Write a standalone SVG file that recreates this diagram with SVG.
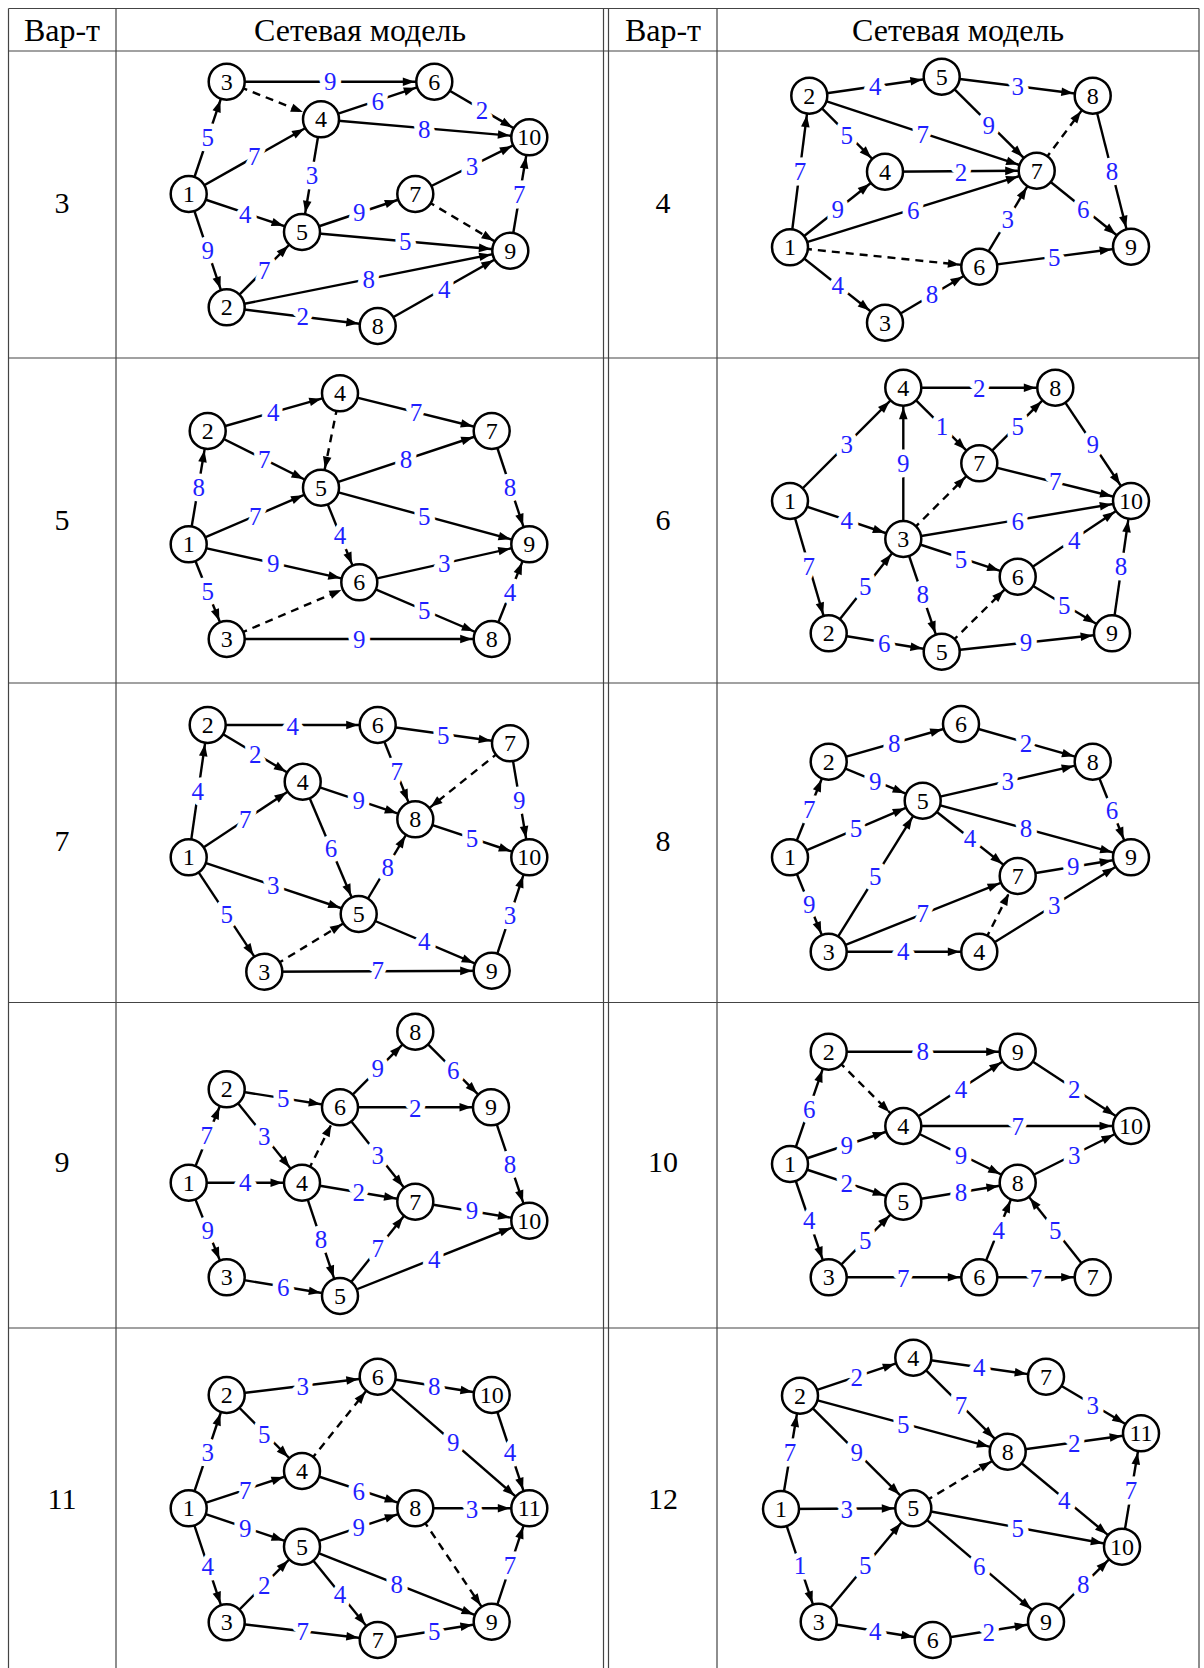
<svg xmlns="http://www.w3.org/2000/svg" width="1204" height="1668" viewBox="0 0 1204 1668">
<style>
.tb{stroke:#444;stroke-width:1.2;fill:none}
.ht{font-family:"Liberation Serif","Times New Roman",Tinos,"DejaVu Serif",serif;font-size:32px;text-anchor:middle;dominant-baseline:central;fill:#000}
.vn{font-family:"Liberation Serif","Times New Roman",Tinos,"DejaVu Serif",serif;font-size:30px;text-anchor:middle;dominant-baseline:central;fill:#000}
.e{stroke:#000;stroke-width:2.4;fill:none;marker-end:url(#a)}
.d{stroke:#000;stroke-width:2.4;fill:none;stroke-dasharray:8 6;marker-end:url(#a)}
.n circle{fill:#fff;stroke:#000;stroke-width:2.5}
.n text{font-family:"Liberation Serif","Times New Roman",Tinos,"DejaVu Serif",serif;font-size:24px;text-anchor:middle;dominant-baseline:central;fill:#000}
.w{font-family:"Liberation Serif","Times New Roman",Tinos,"DejaVu Serif",serif;font-size:25px;fill:#1f1fff;stroke:#fff;stroke-width:11;stroke-linejoin:round;paint-order:stroke;text-anchor:middle;dominant-baseline:central}
</style>
<defs>
<marker id="a" markerUnits="userSpaceOnUse" markerWidth="40" markerHeight="20" refX="31.5" refY="0" orient="auto" overflow="visible"><path d="M0,-4.3 L12,0 L0,4.3z" fill="#000"/></marker>
</defs>
<rect width="1204" height="1668" fill="#fff"/>
<g id="table">
<path class="tb" d="M8.5,8.5H1199M8.5,51H1199M8.5,358H1199M8.5,683H1199M8.5,1002.5H1199M8.5,1328H1199"/>
<path class="tb" d="M8.5,8.5V1668M116,8.5V1668M603.5,8.5V1668M608.5,8.5V1668M717,8.5V1668M1199,8.5V1668"/>
<text class="ht" x="62" y="29.5">Вар-т</text>
<text class="ht" x="360" y="29.5">Сетевая модель</text>
<text class="ht" x="663" y="29.5">Вар-т</text>
<text class="ht" x="958" y="29.5">Сетевая модель</text>
<text class="vn" x="62" y="202">3</text>
<text class="vn" x="663" y="202">4</text>
<text class="vn" x="62" y="519">5</text>
<text class="vn" x="663" y="519">6</text>
<text class="vn" x="62" y="840">7</text>
<text class="vn" x="663" y="840">8</text>
<text class="vn" x="62" y="1161">9</text>
<text class="vn" x="663" y="1161">10</text>
<text class="vn" x="62" y="1498">11</text>
<text class="vn" x="663" y="1498">12</text>
</g>

<!-- Variant 3 -->
<g id="v3">
<g id="v3-connectors">
<line class="e" x1="188.7" y1="194" x2="226.7" y2="81.7"/>
<line class="e" x1="188.7" y1="194" x2="321" y2="119.3"/>
<line class="e" x1="188.7" y1="194" x2="302" y2="232"/>
<line class="e" x1="188.7" y1="194" x2="226.7" y2="307.3"/>
<line class="e" x1="226.7" y1="81.7" x2="434.3" y2="81.7"/>
<line class="d" x1="226.7" y1="81.7" x2="321" y2="119.3"/>
<line class="e" x1="321" y1="119.3" x2="434.3" y2="81.7"/>
<line class="e" x1="321" y1="119.3" x2="529.3" y2="137.3"/>
<line class="e" x1="321" y1="119.3" x2="302" y2="232"/>
<line class="e" x1="434.3" y1="81.7" x2="529.3" y2="137.3"/>
<line class="e" x1="302" y1="232" x2="415.3" y2="194"/>
<line class="e" x1="302" y1="232" x2="510.3" y2="250.7"/>
<line class="e" x1="415.3" y1="194" x2="529.3" y2="137.3"/>
<line class="d" x1="415.3" y1="194" x2="510.3" y2="250.7"/>
<line class="e" x1="226.7" y1="307.3" x2="302" y2="232"/>
<line class="e" x1="226.7" y1="307.3" x2="510.3" y2="250.7"/>
<line class="e" x1="226.7" y1="307.3" x2="377.7" y2="326"/>
<line class="e" x1="377.7" y1="326" x2="510.3" y2="250.7"/>
<line class="e" x1="510.3" y1="250.7" x2="529.3" y2="137.3"/>
<text class="w" x="207.7" y="137.3">5</text>
<text class="w" x="254.3" y="156.7">7</text>
<text class="w" x="245.3" y="214">4</text>
<text class="w" x="207.7" y="250.7">9</text>
<text class="w" x="330.3" y="81">9</text>
<text class="w" x="377.7" y="101.7">6</text>
<text class="w" x="424.3" y="129.3">8</text>
<text class="w" x="312" y="175">3</text>
<text class="w" x="482" y="110">2</text>
<text class="w" x="359.3" y="212.7">9</text>
<text class="w" x="405.3" y="241.7">5</text>
<text class="w" x="472" y="166">3</text>
<text class="w" x="264.3" y="270">7</text>
<text class="w" x="368.7" y="279.3">8</text>
<text class="w" x="302.7" y="316.7">2</text>
<text class="w" x="444.3" y="289.3">4</text>
<text class="w" x="519.3" y="194">7</text>
</g>
<g id="v3-n1" class="n" transform="translate(188.7,194)"><circle r="18"/><text>1</text></g>
<g id="v3-n2" class="n" transform="translate(226.7,307.3)"><circle r="18"/><text>2</text></g>
<g id="v3-n3" class="n" transform="translate(226.7,81.7)"><circle r="18"/><text>3</text></g>
<g id="v3-n4" class="n" transform="translate(321,119.3)"><circle r="18"/><text>4</text></g>
<g id="v3-n5" class="n" transform="translate(302,232)"><circle r="18"/><text>5</text></g>
<g id="v3-n6" class="n" transform="translate(434.3,81.7)"><circle r="18"/><text>6</text></g>
<g id="v3-n7" class="n" transform="translate(415.3,194)"><circle r="18"/><text>7</text></g>
<g id="v3-n8" class="n" transform="translate(377.7,326)"><circle r="18"/><text>8</text></g>
<g id="v3-n9" class="n" transform="translate(510.3,250.7)"><circle r="18"/><text>9</text></g>
<g id="v3-n10" class="n" transform="translate(529.3,137.3)"><circle r="18"/><text>10</text></g>
</g>

<!-- Variant 4 -->
<g id="v4">
<g id="v4-connectors">
<line class="e" x1="790" y1="247.3" x2="809.3" y2="95.7"/>
<line class="e" x1="790" y1="247.3" x2="885" y2="171.7"/>
<line class="e" x1="790" y1="247.3" x2="1036.7" y2="170.7"/>
<line class="d" x1="790" y1="247.3" x2="979.3" y2="266.7"/>
<line class="e" x1="790" y1="247.3" x2="885" y2="322.7"/>
<line class="e" x1="809.3" y1="95.7" x2="941.7" y2="76.7"/>
<line class="e" x1="809.3" y1="95.7" x2="885" y2="171.7"/>
<line class="e" x1="809.3" y1="95.7" x2="1036.7" y2="170.7"/>
<line class="e" x1="885" y1="171.7" x2="1036.7" y2="170.7"/>
<line class="e" x1="941.7" y1="76.7" x2="1092.7" y2="95.7"/>
<line class="e" x1="941.7" y1="76.7" x2="1036.7" y2="170.7"/>
<line class="d" x1="1036.7" y1="170.7" x2="1092.7" y2="95.7"/>
<line class="e" x1="1092.7" y1="95.7" x2="1131" y2="246.7"/>
<line class="e" x1="1036.7" y1="170.7" x2="1131" y2="246.7"/>
<line class="e" x1="979.3" y1="266.7" x2="1036.7" y2="170.7"/>
<line class="e" x1="979.3" y1="266.7" x2="1131" y2="246.7"/>
<line class="e" x1="885" y1="322.7" x2="979.3" y2="266.7"/>
<text class="w" x="800" y="171.7">7</text>
<text class="w" x="837.7" y="209.3">9</text>
<text class="w" x="913.3" y="210">6</text>
<text class="w" x="837.7" y="285">4</text>
<text class="w" x="875.3" y="86">4</text>
<text class="w" x="846.7" y="135">5</text>
<text class="w" x="922.7" y="134">7</text>
<text class="w" x="961" y="172.7">2</text>
<text class="w" x="1017.7" y="86">3</text>
<text class="w" x="988.7" y="125">9</text>
<text class="w" x="1112" y="171.7">8</text>
<text class="w" x="1083.3" y="209.3">6</text>
<text class="w" x="1007.7" y="219.3">3</text>
<text class="w" x="1054.3" y="257.3">5</text>
<text class="w" x="932" y="294">8</text>
</g>
<g id="v4-n1" class="n" transform="translate(790,247.3)"><circle r="18"/><text>1</text></g>
<g id="v4-n2" class="n" transform="translate(809.3,95.7)"><circle r="18"/><text>2</text></g>
<g id="v4-n3" class="n" transform="translate(885,322.7)"><circle r="18"/><text>3</text></g>
<g id="v4-n4" class="n" transform="translate(885,171.7)"><circle r="18"/><text>4</text></g>
<g id="v4-n5" class="n" transform="translate(941.7,76.7)"><circle r="18"/><text>5</text></g>
<g id="v4-n6" class="n" transform="translate(979.3,266.7)"><circle r="18"/><text>6</text></g>
<g id="v4-n7" class="n" transform="translate(1036.7,170.7)"><circle r="18"/><text>7</text></g>
<g id="v4-n8" class="n" transform="translate(1092.7,95.7)"><circle r="18"/><text>8</text></g>
<g id="v4-n9" class="n" transform="translate(1131,246.7)"><circle r="18"/><text>9</text></g>
</g>

<!-- Variant 5 -->
<g id="v5">
<g id="v5-connectors">
<line class="e" x1="188.7" y1="544.3" x2="207.7" y2="431"/>
<line class="e" x1="188.7" y1="544.3" x2="321" y2="487.7"/>
<line class="e" x1="188.7" y1="544.3" x2="359.3" y2="582.3"/>
<line class="e" x1="188.7" y1="544.3" x2="226.7" y2="639"/>
<line class="e" x1="207.7" y1="431" x2="340" y2="393.3"/>
<line class="e" x1="207.7" y1="431" x2="321" y2="487.7"/>
<line class="d" x1="340" y1="393.3" x2="321" y2="487.7"/>
<line class="e" x1="340" y1="393.3" x2="491.7" y2="431"/>
<line class="e" x1="321" y1="487.7" x2="491.7" y2="431"/>
<line class="e" x1="321" y1="487.7" x2="529.3" y2="544.3"/>
<line class="e" x1="321" y1="487.7" x2="359.3" y2="582.3"/>
<line class="d" x1="226.7" y1="639" x2="359.3" y2="582.3"/>
<line class="e" x1="226.7" y1="639" x2="491.7" y2="639"/>
<line class="e" x1="359.3" y1="582.3" x2="529.3" y2="544.3"/>
<line class="e" x1="359.3" y1="582.3" x2="491.7" y2="639"/>
<line class="e" x1="491.7" y1="431" x2="529.3" y2="544.3"/>
<line class="e" x1="491.7" y1="639" x2="529.3" y2="544.3"/>
<text class="w" x="198.7" y="487.7">8</text>
<text class="w" x="255.3" y="516.7">7</text>
<text class="w" x="273.3" y="563.3">9</text>
<text class="w" x="207.7" y="591">5</text>
<text class="w" x="273.3" y="412.3">4</text>
<text class="w" x="264.3" y="459">7</text>
<text class="w" x="416" y="412.3">7</text>
<text class="w" x="406" y="459">8</text>
<text class="w" x="424.3" y="516.7">5</text>
<text class="w" x="340" y="535">4</text>
<text class="w" x="359.3" y="639">9</text>
<text class="w" x="444.3" y="563.3">3</text>
<text class="w" x="424.3" y="610">5</text>
<text class="w" x="510" y="487.7">8</text>
<text class="w" x="510" y="592.3">4</text>
</g>
<g id="v5-n1" class="n" transform="translate(188.7,544.3)"><circle r="18"/><text>1</text></g>
<g id="v5-n2" class="n" transform="translate(207.7,431)"><circle r="18"/><text>2</text></g>
<g id="v5-n3" class="n" transform="translate(226.7,639)"><circle r="18"/><text>3</text></g>
<g id="v5-n4" class="n" transform="translate(340,393.3)"><circle r="18"/><text>4</text></g>
<g id="v5-n5" class="n" transform="translate(321,487.7)"><circle r="18"/><text>5</text></g>
<g id="v5-n6" class="n" transform="translate(359.3,582.3)"><circle r="18"/><text>6</text></g>
<g id="v5-n7" class="n" transform="translate(491.7,431)"><circle r="18"/><text>7</text></g>
<g id="v5-n8" class="n" transform="translate(491.7,639)"><circle r="18"/><text>8</text></g>
<g id="v5-n9" class="n" transform="translate(529.3,544.3)"><circle r="18"/><text>9</text></g>
</g>

<!-- Variant 6 -->
<g id="v6">
<g id="v6-connectors">
<line class="e" x1="790" y1="501" x2="903.3" y2="387.7"/>
<line class="e" x1="790" y1="501" x2="903.3" y2="539"/>
<line class="e" x1="790" y1="501" x2="828.7" y2="633.3"/>
<line class="e" x1="828.7" y1="633.3" x2="903.3" y2="539"/>
<line class="e" x1="828.7" y1="633.3" x2="941.7" y2="651.7"/>
<line class="e" x1="903.3" y1="539" x2="903.3" y2="387.7"/>
<line class="d" x1="903.3" y1="539" x2="979.3" y2="463.3"/>
<line class="e" x1="903.3" y1="539" x2="1131" y2="501"/>
<line class="e" x1="903.3" y1="539" x2="1017.7" y2="576.7"/>
<line class="e" x1="903.3" y1="539" x2="941.7" y2="651.7"/>
<line class="e" x1="903.3" y1="387.7" x2="1055.3" y2="387.7"/>
<line class="e" x1="903.3" y1="387.7" x2="979.3" y2="463.3"/>
<line class="e" x1="979.3" y1="463.3" x2="1055.3" y2="387.7"/>
<line class="e" x1="979.3" y1="463.3" x2="1131" y2="501"/>
<line class="e" x1="1055.3" y1="387.7" x2="1131" y2="501"/>
<line class="e" x1="1017.7" y1="576.7" x2="1131" y2="501"/>
<line class="e" x1="1017.7" y1="576.7" x2="1112" y2="633.3"/>
<line class="d" x1="941.7" y1="651.7" x2="1017.7" y2="576.7"/>
<line class="e" x1="941.7" y1="651.7" x2="1112" y2="633.3"/>
<line class="e" x1="1112" y1="633.3" x2="1131" y2="501"/>
<text class="w" x="846.7" y="444.3">3</text>
<text class="w" x="846.7" y="520">4</text>
<text class="w" x="808.7" y="566.7">7</text>
<text class="w" x="865.3" y="586.7">5</text>
<text class="w" x="884.3" y="643.3">6</text>
<text class="w" x="903.3" y="463.3">9</text>
<text class="w" x="1017.7" y="521">6</text>
<text class="w" x="961" y="559">5</text>
<text class="w" x="922.7" y="594.3">8</text>
<text class="w" x="979.3" y="388.3">2</text>
<text class="w" x="942" y="426.7">1</text>
<text class="w" x="1017.7" y="426.7">5</text>
<text class="w" x="1055.3" y="481.7">7</text>
<text class="w" x="1092.7" y="444.3">9</text>
<text class="w" x="1074.3" y="540">4</text>
<text class="w" x="1064.3" y="605.7">5</text>
<text class="w" x="1026" y="642.3">9</text>
<text class="w" x="1121" y="566.7">8</text>
</g>
<g id="v6-n1" class="n" transform="translate(790,501)"><circle r="18"/><text>1</text></g>
<g id="v6-n2" class="n" transform="translate(828.7,633.3)"><circle r="18"/><text>2</text></g>
<g id="v6-n3" class="n" transform="translate(903.3,539)"><circle r="18"/><text>3</text></g>
<g id="v6-n4" class="n" transform="translate(903.3,387.7)"><circle r="18"/><text>4</text></g>
<g id="v6-n5" class="n" transform="translate(941.7,651.7)"><circle r="18"/><text>5</text></g>
<g id="v6-n6" class="n" transform="translate(1017.7,576.7)"><circle r="18"/><text>6</text></g>
<g id="v6-n7" class="n" transform="translate(979.3,463.3)"><circle r="18"/><text>7</text></g>
<g id="v6-n8" class="n" transform="translate(1055.3,387.7)"><circle r="18"/><text>8</text></g>
<g id="v6-n9" class="n" transform="translate(1112,633.3)"><circle r="18"/><text>9</text></g>
<g id="v6-n10" class="n" transform="translate(1131,501)"><circle r="18"/><text>10</text></g>
</g>

<!-- Variant 7 -->
<g id="v7">
<g id="v7-connectors">
<line class="e" x1="188.7" y1="857.3" x2="207.7" y2="725"/>
<line class="e" x1="188.7" y1="857.3" x2="302.7" y2="781.7"/>
<line class="e" x1="188.7" y1="857.3" x2="358.7" y2="914"/>
<line class="e" x1="188.7" y1="857.3" x2="264.3" y2="971.7"/>
<line class="e" x1="207.7" y1="725" x2="377.7" y2="725"/>
<line class="e" x1="207.7" y1="725" x2="302.7" y2="781.7"/>
<line class="e" x1="377.7" y1="725" x2="510" y2="743.3"/>
<line class="e" x1="377.7" y1="725" x2="415.3" y2="819.3"/>
<line class="d" x1="510" y1="743.3" x2="415.3" y2="819.3"/>
<line class="e" x1="510" y1="743.3" x2="529.3" y2="857.3"/>
<line class="e" x1="302.7" y1="781.7" x2="415.3" y2="819.3"/>
<line class="e" x1="302.7" y1="781.7" x2="358.7" y2="914"/>
<line class="e" x1="415.3" y1="819.3" x2="529.3" y2="857.3"/>
<line class="e" x1="358.7" y1="914" x2="415.3" y2="819.3"/>
<line class="e" x1="358.7" y1="914" x2="491.7" y2="970.7"/>
<line class="d" x1="264.3" y1="971.7" x2="358.7" y2="914"/>
<line class="e" x1="264.3" y1="971.7" x2="491.7" y2="970.7"/>
<line class="e" x1="491.7" y1="970.7" x2="529.3" y2="857.3"/>
<text class="w" x="197.7" y="791.7">4</text>
<text class="w" x="245.3" y="819.3">7</text>
<text class="w" x="273.3" y="885">3</text>
<text class="w" x="226.7" y="914">5</text>
<text class="w" x="292.7" y="726">4</text>
<text class="w" x="255.3" y="754">2</text>
<text class="w" x="443.3" y="735">5</text>
<text class="w" x="396.7" y="771.7">7</text>
<text class="w" x="519.3" y="800.7">9</text>
<text class="w" x="358.7" y="800">9</text>
<text class="w" x="331" y="848.3">6</text>
<text class="w" x="472" y="838.3">5</text>
<text class="w" x="387.7" y="867.3">8</text>
<text class="w" x="424.3" y="941.7">4</text>
<text class="w" x="377.7" y="970.7">7</text>
<text class="w" x="510" y="915">3</text>
</g>
<g id="v7-n1" class="n" transform="translate(188.7,857.3)"><circle r="18"/><text>1</text></g>
<g id="v7-n2" class="n" transform="translate(207.7,725)"><circle r="18"/><text>2</text></g>
<g id="v7-n3" class="n" transform="translate(264.3,971.7)"><circle r="18"/><text>3</text></g>
<g id="v7-n4" class="n" transform="translate(302.7,781.7)"><circle r="18"/><text>4</text></g>
<g id="v7-n5" class="n" transform="translate(358.7,914)"><circle r="18"/><text>5</text></g>
<g id="v7-n6" class="n" transform="translate(377.7,725)"><circle r="18"/><text>6</text></g>
<g id="v7-n7" class="n" transform="translate(510,743.3)"><circle r="18"/><text>7</text></g>
<g id="v7-n8" class="n" transform="translate(415.3,819.3)"><circle r="18"/><text>8</text></g>
<g id="v7-n9" class="n" transform="translate(491.7,970.7)"><circle r="18"/><text>9</text></g>
<g id="v7-n10" class="n" transform="translate(529.3,857.3)"><circle r="18"/><text>10</text></g>
</g>

<!-- Variant 8 -->
<g id="v8">
<g id="v8-connectors">
<line class="e" x1="790" y1="857.3" x2="828.7" y2="761.7"/>
<line class="e" x1="790" y1="857.3" x2="922.7" y2="800.7"/>
<line class="e" x1="790" y1="857.3" x2="828.7" y2="951.7"/>
<line class="e" x1="828.7" y1="761.7" x2="961" y2="724"/>
<line class="e" x1="828.7" y1="761.7" x2="922.7" y2="800.7"/>
<line class="e" x1="961" y1="724" x2="1092.7" y2="761.7"/>
<line class="e" x1="922.7" y1="800.7" x2="1092.7" y2="761.7"/>
<line class="e" x1="922.7" y1="800.7" x2="1131" y2="857.3"/>
<line class="e" x1="922.7" y1="800.7" x2="1017.7" y2="876"/>
<line class="e" x1="1092.7" y1="761.7" x2="1131" y2="857.3"/>
<line class="e" x1="1017.7" y1="876" x2="1131" y2="857.3"/>
<line class="e" x1="828.7" y1="951.7" x2="922.7" y2="800.7"/>
<line class="e" x1="828.7" y1="951.7" x2="1017.7" y2="876"/>
<line class="e" x1="828.7" y1="951.7" x2="979.3" y2="951.7"/>
<line class="d" x1="979.3" y1="951.7" x2="1017.7" y2="876"/>
<line class="e" x1="979.3" y1="951.7" x2="1131" y2="857.3"/>
<text class="w" x="809.3" y="809.3">7</text>
<text class="w" x="856" y="828.3">5</text>
<text class="w" x="809.3" y="904">9</text>
<text class="w" x="894.3" y="743.3">8</text>
<text class="w" x="875.3" y="781.7">9</text>
<text class="w" x="1026" y="743.3">2</text>
<text class="w" x="1007.7" y="781.7">3</text>
<text class="w" x="1026" y="828.3">8</text>
<text class="w" x="970" y="838.3">4</text>
<text class="w" x="1112" y="810.7">6</text>
<text class="w" x="1073.3" y="866.7">9</text>
<text class="w" x="875.3" y="876.7">5</text>
<text class="w" x="922.7" y="913.3">7</text>
<text class="w" x="903.3" y="951.7">4</text>
<text class="w" x="1054.3" y="905">3</text>
</g>
<g id="v8-n1" class="n" transform="translate(790,857.3)"><circle r="18"/><text>1</text></g>
<g id="v8-n2" class="n" transform="translate(828.7,761.7)"><circle r="18"/><text>2</text></g>
<g id="v8-n3" class="n" transform="translate(828.7,951.7)"><circle r="18"/><text>3</text></g>
<g id="v8-n4" class="n" transform="translate(979.3,951.7)"><circle r="18"/><text>4</text></g>
<g id="v8-n5" class="n" transform="translate(922.7,800.7)"><circle r="18"/><text>5</text></g>
<g id="v8-n6" class="n" transform="translate(961,724)"><circle r="18"/><text>6</text></g>
<g id="v8-n7" class="n" transform="translate(1017.7,876)"><circle r="18"/><text>7</text></g>
<g id="v8-n8" class="n" transform="translate(1092.7,761.7)"><circle r="18"/><text>8</text></g>
<g id="v8-n9" class="n" transform="translate(1131,857.3)"><circle r="18"/><text>9</text></g>
</g>

<!-- Variant 9 -->
<g id="v9">
<g id="v9-connectors">
<line class="e" x1="188.7" y1="1182.7" x2="226.7" y2="1089.3"/>
<line class="e" x1="188.7" y1="1182.7" x2="302" y2="1182.7"/>
<line class="e" x1="188.7" y1="1182.7" x2="226.7" y2="1277.3"/>
<line class="e" x1="226.7" y1="1089.3" x2="340" y2="1107.3"/>
<line class="e" x1="226.7" y1="1089.3" x2="302" y2="1182.7"/>
<line class="d" x1="302" y1="1182.7" x2="340" y2="1107.3"/>
<line class="e" x1="340" y1="1107.3" x2="415.3" y2="1031.7"/>
<line class="e" x1="340" y1="1107.3" x2="491" y2="1107.3"/>
<line class="e" x1="340" y1="1107.3" x2="415.3" y2="1201.7"/>
<line class="e" x1="302" y1="1182.7" x2="415.3" y2="1201.7"/>
<line class="e" x1="302" y1="1182.7" x2="340" y2="1296"/>
<line class="e" x1="415.3" y1="1031.7" x2="491" y2="1107.3"/>
<line class="e" x1="491" y1="1107.3" x2="529.3" y2="1220.7"/>
<line class="e" x1="415.3" y1="1201.7" x2="529.3" y2="1220.7"/>
<line class="e" x1="340" y1="1296" x2="415.3" y2="1201.7"/>
<line class="e" x1="340" y1="1296" x2="529.3" y2="1220.7"/>
<line class="e" x1="226.7" y1="1277.3" x2="340" y2="1296"/>
<text class="w" x="206.7" y="1135">7</text>
<text class="w" x="245.3" y="1182.7">4</text>
<text class="w" x="207.7" y="1230">9</text>
<text class="w" x="283.3" y="1098.3">5</text>
<text class="w" x="264.3" y="1136">3</text>
<text class="w" x="377.7" y="1068.3">9</text>
<text class="w" x="415.3" y="1108.3">2</text>
<text class="w" x="377.7" y="1155">3</text>
<text class="w" x="358.7" y="1192.7">2</text>
<text class="w" x="321" y="1239.3">8</text>
<text class="w" x="453.3" y="1070.7">6</text>
<text class="w" x="510" y="1164">8</text>
<text class="w" x="472" y="1210.7">9</text>
<text class="w" x="377.7" y="1248.3">7</text>
<text class="w" x="434.3" y="1259.3">4</text>
<text class="w" x="283.3" y="1287.3">6</text>
</g>
<g id="v9-n1" class="n" transform="translate(188.7,1182.7)"><circle r="18"/><text>1</text></g>
<g id="v9-n2" class="n" transform="translate(226.7,1089.3)"><circle r="18"/><text>2</text></g>
<g id="v9-n3" class="n" transform="translate(226.7,1277.3)"><circle r="18"/><text>3</text></g>
<g id="v9-n4" class="n" transform="translate(302,1182.7)"><circle r="18"/><text>4</text></g>
<g id="v9-n5" class="n" transform="translate(340,1296)"><circle r="18"/><text>5</text></g>
<g id="v9-n6" class="n" transform="translate(340,1107.3)"><circle r="18"/><text>6</text></g>
<g id="v9-n7" class="n" transform="translate(415.3,1201.7)"><circle r="18"/><text>7</text></g>
<g id="v9-n8" class="n" transform="translate(415.3,1031.7)"><circle r="18"/><text>8</text></g>
<g id="v9-n9" class="n" transform="translate(491,1107.3)"><circle r="18"/><text>9</text></g>
<g id="v9-n10" class="n" transform="translate(529.3,1220.7)"><circle r="18"/><text>10</text></g>
</g>

<!-- Variant 10 -->
<g id="v10">
<g id="v10-connectors">
<line class="e" x1="790" y1="1164" x2="828.7" y2="1051.7"/>
<line class="e" x1="790" y1="1164" x2="903.3" y2="1126"/>
<line class="e" x1="790" y1="1164" x2="903.3" y2="1201.7"/>
<line class="e" x1="790" y1="1164" x2="828.7" y2="1277.3"/>
<line class="e" x1="828.7" y1="1051.7" x2="1017.7" y2="1051.7"/>
<line class="d" x1="828.7" y1="1051.7" x2="903.3" y2="1126"/>
<line class="e" x1="903.3" y1="1126" x2="1017.7" y2="1051.7"/>
<line class="e" x1="903.3" y1="1126" x2="1131" y2="1126"/>
<line class="e" x1="903.3" y1="1126" x2="1017.7" y2="1182.7"/>
<line class="e" x1="903.3" y1="1201.7" x2="1017.7" y2="1182.7"/>
<line class="e" x1="1017.7" y1="1182.7" x2="1131" y2="1126"/>
<line class="e" x1="1017.7" y1="1051.7" x2="1131" y2="1126"/>
<line class="e" x1="828.7" y1="1277.3" x2="903.3" y2="1201.7"/>
<line class="e" x1="828.7" y1="1277.3" x2="979.3" y2="1277.3"/>
<line class="e" x1="979.3" y1="1277.3" x2="1017.7" y2="1182.7"/>
<line class="e" x1="1092.7" y1="1277.3" x2="1017.7" y2="1182.7"/>
<line class="e" x1="979.3" y1="1277.3" x2="1092.7" y2="1277.3"/>
<text class="w" x="809.3" y="1109.3">6</text>
<text class="w" x="846.7" y="1145">9</text>
<text class="w" x="846.7" y="1183.3">2</text>
<text class="w" x="809.3" y="1220.7">4</text>
<text class="w" x="922.7" y="1051.7">8</text>
<text class="w" x="961" y="1089.3">4</text>
<text class="w" x="1017.7" y="1126.7">7</text>
<text class="w" x="961" y="1155">9</text>
<text class="w" x="961" y="1192.7">8</text>
<text class="w" x="1074.3" y="1155">3</text>
<text class="w" x="1074.3" y="1089.3">2</text>
<text class="w" x="865.3" y="1240.7">5</text>
<text class="w" x="903.3" y="1278.3">7</text>
<text class="w" x="998.7" y="1230">4</text>
<text class="w" x="1055.3" y="1230">5</text>
<text class="w" x="1036" y="1278.3">7</text>
</g>
<g id="v10-n1" class="n" transform="translate(790,1164)"><circle r="18"/><text>1</text></g>
<g id="v10-n2" class="n" transform="translate(828.7,1051.7)"><circle r="18"/><text>2</text></g>
<g id="v10-n3" class="n" transform="translate(828.7,1277.3)"><circle r="18"/><text>3</text></g>
<g id="v10-n4" class="n" transform="translate(903.3,1126)"><circle r="18"/><text>4</text></g>
<g id="v10-n5" class="n" transform="translate(903.3,1201.7)"><circle r="18"/><text>5</text></g>
<g id="v10-n6" class="n" transform="translate(979.3,1277.3)"><circle r="18"/><text>6</text></g>
<g id="v10-n7" class="n" transform="translate(1092.7,1277.3)"><circle r="18"/><text>7</text></g>
<g id="v10-n8" class="n" transform="translate(1017.7,1182.7)"><circle r="18"/><text>8</text></g>
<g id="v10-n9" class="n" transform="translate(1017.7,1051.7)"><circle r="18"/><text>9</text></g>
<g id="v10-n10" class="n" transform="translate(1131,1126)"><circle r="18"/><text>10</text></g>
</g>

<!-- Variant 11 -->
<g id="v11">
<g id="v11-connectors">
<line class="e" x1="188.7" y1="1508.3" x2="226.7" y2="1395"/>
<line class="e" x1="188.7" y1="1508.3" x2="302" y2="1471"/>
<line class="e" x1="188.7" y1="1508.3" x2="302" y2="1546.7"/>
<line class="e" x1="188.7" y1="1508.3" x2="226.7" y2="1622.3"/>
<line class="e" x1="226.7" y1="1395" x2="377.7" y2="1376.7"/>
<line class="e" x1="226.7" y1="1395" x2="302" y2="1471"/>
<line class="d" x1="302" y1="1471" x2="377.7" y2="1376.7"/>
<line class="e" x1="302" y1="1471" x2="415.3" y2="1508.3"/>
<line class="e" x1="377.7" y1="1376.7" x2="491.7" y2="1395"/>
<line class="e" x1="377.7" y1="1376.7" x2="529.3" y2="1508.3"/>
<line class="e" x1="491.7" y1="1395" x2="529.3" y2="1508.3"/>
<line class="e" x1="415.3" y1="1508.3" x2="529.3" y2="1508.3"/>
<line class="d" x1="415.3" y1="1508.3" x2="491.7" y2="1621.7"/>
<line class="e" x1="302" y1="1546.7" x2="415.3" y2="1508.3"/>
<line class="e" x1="302" y1="1546.7" x2="491.7" y2="1621.7"/>
<line class="e" x1="302" y1="1546.7" x2="377.7" y2="1640"/>
<line class="e" x1="226.7" y1="1622.3" x2="302" y2="1546.7"/>
<line class="e" x1="226.7" y1="1622.3" x2="377.7" y2="1640"/>
<line class="e" x1="377.7" y1="1640" x2="491.7" y2="1621.7"/>
<line class="e" x1="491.7" y1="1621.7" x2="529.3" y2="1508.3"/>
<text class="w" x="207.7" y="1452.3">3</text>
<text class="w" x="245.3" y="1490">7</text>
<text class="w" x="245.3" y="1528.3">9</text>
<text class="w" x="207.7" y="1566.7">4</text>
<text class="w" x="302.7" y="1386.7">3</text>
<text class="w" x="264.3" y="1434.3">5</text>
<text class="w" x="358.7" y="1491">6</text>
<text class="w" x="434.3" y="1386.7">8</text>
<text class="w" x="453.3" y="1442.3">9</text>
<text class="w" x="510" y="1452.3">4</text>
<text class="w" x="472" y="1509">3</text>
<text class="w" x="358.7" y="1527.7">9</text>
<text class="w" x="396.7" y="1584.3">8</text>
<text class="w" x="340" y="1594.3">4</text>
<text class="w" x="264.3" y="1585">2</text>
<text class="w" x="302.7" y="1631.7">7</text>
<text class="w" x="434.3" y="1631.7">5</text>
<text class="w" x="510" y="1565.7">7</text>
</g>
<g id="v11-n1" class="n" transform="translate(188.7,1508.3)"><circle r="18"/><text>1</text></g>
<g id="v11-n2" class="n" transform="translate(226.7,1395)"><circle r="18"/><text>2</text></g>
<g id="v11-n3" class="n" transform="translate(226.7,1622.3)"><circle r="18"/><text>3</text></g>
<g id="v11-n4" class="n" transform="translate(302,1471)"><circle r="18"/><text>4</text></g>
<g id="v11-n5" class="n" transform="translate(302,1546.7)"><circle r="18"/><text>5</text></g>
<g id="v11-n6" class="n" transform="translate(377.7,1376.7)"><circle r="18"/><text>6</text></g>
<g id="v11-n7" class="n" transform="translate(377.7,1640)"><circle r="18"/><text>7</text></g>
<g id="v11-n8" class="n" transform="translate(415.3,1508.3)"><circle r="18"/><text>8</text></g>
<g id="v11-n9" class="n" transform="translate(491.7,1621.7)"><circle r="18"/><text>9</text></g>
<g id="v11-n10" class="n" transform="translate(491.7,1395)"><circle r="18"/><text>10</text></g>
<g id="v11-n11" class="n" transform="translate(529.3,1508.3)"><circle r="18"/><text>11</text></g>
</g>

<!-- Variant 12 -->
<g id="v12">
<g id="v12-connectors">
<line class="e" x1="781" y1="1509" x2="800" y2="1395.7"/>
<line class="e" x1="781" y1="1509" x2="913.3" y2="1508.3"/>
<line class="e" x1="781" y1="1509" x2="818.7" y2="1621.7"/>
<line class="e" x1="800" y1="1395.7" x2="913.3" y2="1357.7"/>
<line class="e" x1="800" y1="1395.7" x2="1007.7" y2="1451.7"/>
<line class="e" x1="800" y1="1395.7" x2="913.3" y2="1508.3"/>
<line class="e" x1="913.3" y1="1357.7" x2="1046" y2="1376.7"/>
<line class="e" x1="913.3" y1="1357.7" x2="1007.7" y2="1451.7"/>
<line class="e" x1="1046" y1="1376.7" x2="1141" y2="1433.3"/>
<line class="e" x1="1007.7" y1="1451.7" x2="1141" y2="1433.3"/>
<line class="e" x1="1007.7" y1="1451.7" x2="1122" y2="1546.7"/>
<line class="d" x1="913.3" y1="1508.3" x2="1007.7" y2="1451.7"/>
<line class="e" x1="913.3" y1="1508.3" x2="1122" y2="1546.7"/>
<line class="e" x1="913.3" y1="1508.3" x2="1046" y2="1621.7"/>
<line class="e" x1="818.7" y1="1621.7" x2="913.3" y2="1508.3"/>
<line class="e" x1="818.7" y1="1621.7" x2="932.7" y2="1640"/>
<line class="e" x1="932.7" y1="1640" x2="1046" y2="1621.7"/>
<line class="e" x1="1046" y1="1621.7" x2="1122" y2="1546.7"/>
<line class="e" x1="1122" y1="1546.7" x2="1141" y2="1433.3"/>
<text class="w" x="790" y="1452.3">7</text>
<text class="w" x="846.7" y="1509">3</text>
<text class="w" x="800" y="1565.7">1</text>
<text class="w" x="856.7" y="1377.7">2</text>
<text class="w" x="903.3" y="1424.3">5</text>
<text class="w" x="856.7" y="1452.3">9</text>
<text class="w" x="979.3" y="1367.7">4</text>
<text class="w" x="961" y="1405">7</text>
<text class="w" x="1092.7" y="1405.7">3</text>
<text class="w" x="1074.3" y="1443.3">2</text>
<text class="w" x="1064.3" y="1500">4</text>
<text class="w" x="1017.7" y="1528.3">5</text>
<text class="w" x="979.3" y="1566.7">6</text>
<text class="w" x="865.3" y="1565.7">5</text>
<text class="w" x="875.3" y="1631">4</text>
<text class="w" x="988.7" y="1632.3">2</text>
<text class="w" x="1083.3" y="1584.3">8</text>
<text class="w" x="1131" y="1490">7</text>
</g>
<g id="v12-n1" class="n" transform="translate(781,1509)"><circle r="18"/><text>1</text></g>
<g id="v12-n2" class="n" transform="translate(800,1395.7)"><circle r="18"/><text>2</text></g>
<g id="v12-n3" class="n" transform="translate(818.7,1621.7)"><circle r="18"/><text>3</text></g>
<g id="v12-n4" class="n" transform="translate(913.3,1357.7)"><circle r="18"/><text>4</text></g>
<g id="v12-n5" class="n" transform="translate(913.3,1508.3)"><circle r="18"/><text>5</text></g>
<g id="v12-n6" class="n" transform="translate(932.7,1640)"><circle r="18"/><text>6</text></g>
<g id="v12-n7" class="n" transform="translate(1046,1376.7)"><circle r="18"/><text>7</text></g>
<g id="v12-n8" class="n" transform="translate(1007.7,1451.7)"><circle r="18"/><text>8</text></g>
<g id="v12-n9" class="n" transform="translate(1046,1621.7)"><circle r="18"/><text>9</text></g>
<g id="v12-n10" class="n" transform="translate(1122,1546.7)"><circle r="18"/><text>10</text></g>
<g id="v12-n11" class="n" transform="translate(1141,1433.3)"><circle r="18"/><text>11</text></g>
</g>
</svg>
